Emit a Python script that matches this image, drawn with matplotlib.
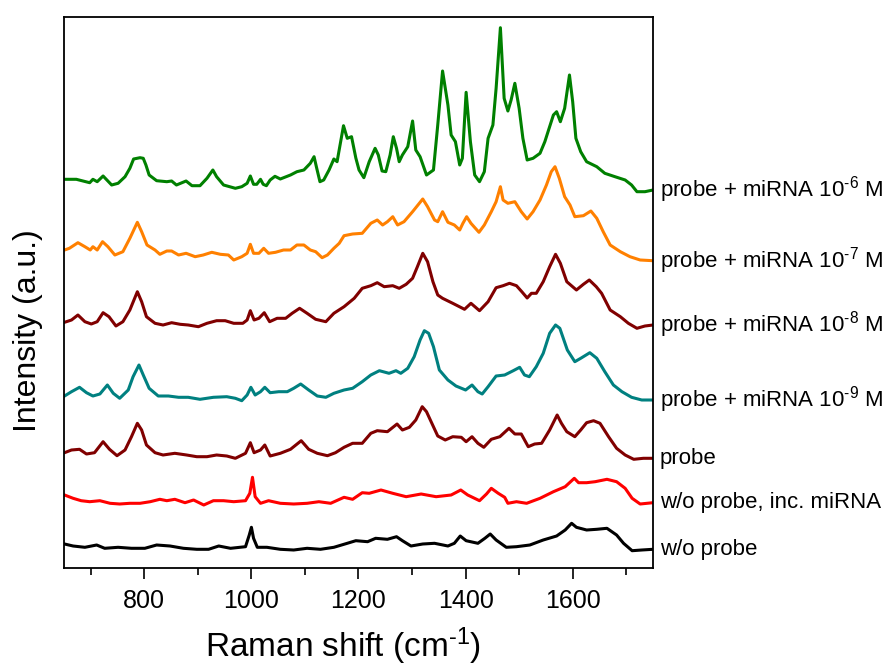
import matplotlib
matplotlib.use("Agg")
import matplotlib.pyplot as plt
from matplotlib.ticker import MultipleLocator, NullLocator

plt.rcParams['font.family'] = ['Liberation Sans', 'DejaVu Sans']
plt.rcParams['mathtext.fontset'] = 'custom'
plt.rcParams['mathtext.rm'] = 'Liberation Sans'
plt.rcParams['mathtext.it'] = 'Liberation Sans:italic'
plt.rcParams['mathtext.bf'] = 'Liberation Sans:bold'

# ---- data (Raman shift in cm^-1, intensity in a.u. incl. stacking offset) ----
green_x = [651, 673, 698, 704, 712, 723, 739, 751, 764, 773, 780, 792, 798, 803, 809, 823, 842, 851, 860, 878,
           889, 904, 917, 928, 935, 948, 970, 982, 992, 998, 1004, 1010, 1017, 1022, 1028, 1035, 1044, 1054, 1073, 1085,
           1098, 1110, 1117, 1122, 1128, 1135, 1145, 1154, 1160, 1172, 1179, 1187, 1195, 1201, 1210, 1220, 1231, 1237,
           1244, 1251, 1259, 1265, 1271, 1276, 1282, 1292, 1301, 1307, 1315, 1327, 1340, 1348, 1357, 1367, 1373, 1381,
           1389, 1394, 1401, 1409, 1417, 1426, 1435, 1442, 1451, 1457, 1465, 1472, 1479, 1485, 1492, 1500, 1507, 1515,
           1526, 1539, 1548, 1556, 1564, 1570, 1577, 1585, 1594, 1600, 1606, 1615, 1626, 1645, 1660, 1679, 1698, 1710,
           1720, 1735, 1750]
green_y = [388.7, 388.7, 385.3, 388.7, 386.3, 392, 383, 384.7, 391.3, 399.7, 409, 410.3, 409.7, 403, 393, 387.3, 386.3,
           387, 383, 387, 382.3, 382.3, 389.7, 398, 391.3, 383, 379.7, 381.3, 384.7, 392, 383.7, 383.7, 388.7, 383.7,
           382.3, 388, 391.7, 389, 393, 396.3, 398, 404.7, 411.3, 399.7, 386.3, 388, 398, 409, 406.3, 442.3, 429.7,
           431.3, 410, 398, 390.3, 406.3, 419.7, 413, 397, 396.3, 413, 431.3, 419.7, 406.3, 413, 421.3, 447, 418,
           411.3, 393, 398, 443, 497, 463, 433, 426.3, 403, 409.7, 475.7, 426.3, 393, 386.3, 396.3, 429.7, 443, 479.7,
           540.3, 469.7, 457, 468, 484.7, 459.7, 429.7, 408, 409.7, 414.7, 426.3, 439.7, 453, 456.3, 446.3, 459.7, 493,
           466.3, 429.7, 416.3, 406.3, 401.3, 394.7, 391.3, 388, 383, 376.3, 376.3, 378]

orange_x = [651, 660, 676, 689, 699, 704, 712, 722, 732, 745, 760, 773, 787, 795, 805, 820, 829, 842, 851, 864, 878,
            895, 910, 926, 942, 957, 967, 982, 992, 998, 1004, 1014, 1023, 1032, 1045, 1060, 1073, 1085, 1098, 1110,
            1120, 1132, 1142, 1154, 1164, 1173, 1189, 1207, 1223, 1235, 1245, 1254, 1264, 1273, 1285, 1301, 1320,
            1329, 1342, 1348, 1357, 1367, 1379, 1389, 1395, 1402, 1410, 1425, 1435, 1448, 1457, 1465, 1470, 1479,
            1492, 1504, 1515, 1526, 1539, 1551, 1560, 1567, 1575, 1585, 1595, 1604, 1620, 1634, 1645, 1657, 1670,
            1689, 1707, 1726, 1750]
orange_y = [318, 319.7, 325.3, 321.3, 318, 321.3, 318, 326.3, 321.3, 313, 316.3, 329.7, 345.7, 336.3, 323, 318,
            313.7, 317, 317, 313, 314.7, 311.3, 313, 315.7, 313.7, 313, 308, 311.3, 314.7, 323.7, 314.7, 314.7, 319.7,
            314.7, 315.7, 318, 318, 323, 323, 318, 316.3, 310.3, 313, 319.7, 324.7, 332.3, 334, 334.7, 344.7, 348,
            343, 346.3, 351.3, 343, 346.3, 356.3, 369, 361.3, 348, 346.3, 356.3, 345.7, 343, 338, 344.7, 351.3, 344.7,
            335.7, 343, 356.3, 366.3, 381.3, 368, 364.7, 366.3, 356.3, 349, 356.3, 368, 383, 396.3, 401.3, 389.7,
            371.3, 363, 351.3, 352.3, 357, 349.7, 336.3, 323, 316.3, 311.3, 308, 307.3]

maroon8_x = [651, 664, 676, 689, 701, 712, 723, 734, 747, 760, 773, 787, 795, 804, 820, 835, 851, 867, 882, 901, 917,
             935, 951, 967, 984, 992, 998, 1005, 1014, 1024, 1034, 1048, 1064, 1076, 1090, 1104, 1120, 1139, 1154,
             1173, 1192, 1207, 1223, 1235, 1248, 1264, 1276, 1289, 1301, 1310, 1320, 1329, 1339, 1348, 1357, 1376,
             1398, 1410, 1426, 1442, 1457, 1470, 1482, 1495, 1505, 1515, 1523, 1532, 1545, 1557, 1568, 1577, 1589,
             1607, 1620, 1631, 1644, 1654, 1670, 1689, 1704, 1720, 1735, 1750]
maroon8_y = [245.7, 248, 253, 246.3, 244, 246.3, 255.3, 251.3, 242, 246.3, 258, 276.3, 266.3, 251.3, 244.7, 243,
             245.3, 243.7, 243, 241.3, 244.7, 247.3, 247.3, 244.7, 244.7, 248, 257.3, 248, 249.7, 255.3, 246.3, 249.7,
             249.7, 254.7, 259.7, 254.7, 248.7, 246.3, 254.7, 261.3, 269.7, 279.7, 282.3, 285.3, 281.3, 282.3, 279.7,
             283.7, 289.7, 301.3, 314.7, 306.3, 286.3, 273, 269.7, 264.7, 258.7, 264.7, 257.3, 266.3, 280.3, 282.3,
             284.7, 282.3, 276.3, 270, 274.7, 274.7, 286.3, 301.3, 313.7, 304.7, 286.3, 278, 283.7, 288, 281.3, 274.7,
             258, 251.3, 244.7, 239.7, 242, 243]

teal_x = [651, 664, 679, 692, 704, 717, 731, 742, 754, 770, 779, 790, 798, 809, 826, 845, 864, 882, 904, 929, 954,
          970, 982, 992, 999, 1007, 1017, 1025, 1035, 1051, 1067, 1079, 1092, 1107, 1123, 1139, 1154, 1173, 1189,
          1207, 1223, 1239, 1257, 1270, 1279, 1292, 1304, 1315, 1323, 1331, 1340, 1351, 1367, 1382, 1400, 1412,
          1423, 1431, 1442, 1457, 1473, 1489, 1501, 1510, 1519, 1532, 1545, 1557, 1568, 1576, 1590, 1604, 1615,
          1632, 1645, 1660, 1676, 1692, 1710, 1729, 1750]
teal_y = [172, 176.3, 180.7, 175.3, 172, 174, 183, 174.7, 169.7, 178, 191.3, 203, 193, 179.7, 172, 172, 170.7, 170.7,
          168.7, 170.7, 171.3, 169.7, 167.3, 173, 180.7, 173, 176.3, 180.7, 175.3, 176.3, 176.3, 179.7, 184, 178, 172,
          170.7, 174.7, 178, 179.7, 186.3, 193, 197.3, 194.7, 197.3, 194.7, 199.7, 211.3, 228, 237.3, 234.7, 221.3,
          198, 188, 182, 178, 183, 176.3, 174, 181.3, 192, 193, 197.3, 200.7, 193, 191.3, 201.3, 214.7, 234.7, 243,
          239.7, 218, 206.3, 209.7, 215.3, 209.7, 196.3, 183, 176.3, 170.7, 168, 168]

probe_x = [651, 664, 679, 692, 707, 723, 735, 749, 764, 776, 787, 795, 804, 820, 835, 857, 879, 898, 917, 935, 954,
           970, 989, 998, 1005, 1017, 1025, 1035, 1054, 1073, 1093, 1107, 1123, 1142, 1157, 1173, 1189, 1207, 1223,
           1235, 1254, 1272, 1282, 1295, 1307, 1319, 1327, 1337, 1348, 1362, 1376, 1392, 1401, 1412, 1423, 1434,
           1448, 1464, 1481, 1492, 1504, 1517, 1529, 1542, 1557, 1571, 1579, 1589, 1604, 1615, 1626, 1639, 1651,
           1667, 1682, 1698, 1714, 1732, 1750]
probe_y = [115.3, 118, 118.7, 114, 115.3, 126.3, 118.7, 112.3, 118, 131.3, 144.7, 138, 123, 115.3, 113, 114.7, 113,
           111.3, 111.3, 113, 112, 109.7, 114.7, 125.3, 115.3, 118, 123, 112, 114.7, 118.7, 127.3, 118.7, 114.7, 112.3,
           115.3, 120.7, 124.7, 124.7, 134.7, 137.3, 136.3, 144, 138, 140.7, 148, 161.3, 156.3, 144.7, 132, 128, 131.3,
           130.7, 126.3, 131.3, 124.7, 120.7, 128.7, 131.3, 139.7, 134, 134, 121.3, 124, 124.7, 138, 153, 144.7, 136.3,
           131.3, 138, 145.3, 147.3, 144.7, 131.3, 119.7, 113, 108.7, 109.7, 109.7]

red_x = [651, 667, 682, 698, 717, 736, 754, 773, 792, 811, 829, 842, 857, 876, 892, 911, 929, 948, 967, 989, 997,
         1002, 1007, 1017, 1032, 1054, 1079, 1104, 1126, 1148, 1173, 1189, 1207, 1220, 1242, 1264, 1289, 1317, 1345,
         1373, 1391, 1404, 1426, 1439, 1448, 1461, 1473, 1479, 1495, 1514, 1539, 1564, 1586, 1603, 1611, 1626, 1642,
         1664, 1682, 1698, 1711, 1726, 1750]
red_y = [73, 69.7, 67.3, 66.3, 67.3, 64.7, 64, 64.7, 64.7, 66.3, 68.7, 67.3, 68.7, 65.3, 68, 63, 67.3, 67.3, 66.3,
         67.3, 74.7, 90.7, 71.3, 64.7, 67.3, 64.7, 64, 64.7, 66.3, 64.7, 70.7, 68.7, 75.3, 74.7, 78, 74.7, 71.3, 74,
         71.3, 73, 78, 73, 67.3, 74, 79.7, 74.7, 70.7, 64.7, 66.3, 64.7, 69.7, 76.3, 81.3, 89.7, 85.3, 85.3, 86.3,
         88.7, 86.3, 79.7, 69.7, 64, 65.3]

black_x = [651, 667, 689, 711, 726, 751, 776, 801, 823, 848, 873, 898, 920, 939, 961, 989, 996, 1000, 1004, 1011,
           1029, 1054, 1079, 1104, 1129, 1154, 1179, 1195, 1217, 1232, 1254, 1271, 1282, 1298, 1320, 1342, 1367,
           1379, 1390, 1401, 1423, 1436, 1446, 1457, 1476, 1495, 1520, 1545, 1570, 1586, 1598, 1607, 1626, 1645,
           1664, 1682, 1695, 1711, 1729, 1750]
black_y = [24, 22, 20.7, 23, 19.7, 20.7, 19.7, 19.7, 23, 22, 19.7, 18.7, 18.7, 22, 19.7, 21.3, 33, 40.7, 29.7, 20.7,
           20.7, 18.7, 18, 19.7, 18.7, 20.7, 24.7, 27.3, 26.3, 29.7, 28.7, 31.3, 27.3, 22, 24, 24.7, 22, 24.7, 32,
           27.3, 24.7, 29.7, 34, 28, 20.7, 21.3, 23, 28, 32, 38, 44.7, 40.7, 38, 38.7, 39.7, 33, 24.7, 17.3, 18, 18.7]

labels = [r"probe + miRNA 10$^{\text{-6}}$ M", r"probe + miRNA 10$^{\text{-7}}$ M",
          r"probe + miRNA 10$^{\text{-8}}$ M", r"probe + miRNA 10$^{\text{-9}}$ M",
          "probe", "w/o probe, inc. miRNA", "w/o probe"]

series = [(green_x, green_y, "#008000"), (orange_x, orange_y, "#FF8000"), (maroon8_x, maroon8_y, "#800000"),
          (teal_x, teal_y, "#008080"), (probe_x, probe_y, "#800000"), (red_x, red_y, "#FF0000"),
          (black_x, black_y, "#000000")]

fig = plt.figure(figsize=(8.95, 6.68), dpi=100)
ax = fig.add_axes([64 / 895, 100 / 668, 589 / 895, 551 / 668])

for (xs, ys, c), lab in zip(series, labels):
    ax.plot(xs, ys, color=c, lw=2.2, solid_joinstyle='round')
    ax.annotate(lab, xy=(xs[-1], ys[-1]), xytext=(5, 0), textcoords='offset points',
                va='center', ha='left', fontsize=16, annotation_clip=False)

ax.set_xlim(650, 1750)
ax.set_ylim(0, 551)
ax.xaxis.set_major_locator(MultipleLocator(200))
ax.xaxis.set_minor_locator(MultipleLocator(100))
ax.yaxis.set_major_locator(NullLocator())
ax.yaxis.set_minor_locator(NullLocator())
ax.tick_params(axis='x', which='major', direction='out', length=8, width=1.2, labelsize=18, pad=7)
ax.tick_params(axis='x', which='minor', direction='out', length=5, width=1.2)
for sp in ax.spines.values():
    sp.set_linewidth(1.3)

ax.set_xlabel(r"Raman shift (cm$^{\text{-1}}$)", fontsize=24)
ax.xaxis.set_label_coords(0.474, -0.105)
ax.set_ylabel("Intensity (a.u.)", fontsize=23)
ax.yaxis.set_label_coords(-0.035, 0.43)

fig.savefig("out.png", dpi=100)
